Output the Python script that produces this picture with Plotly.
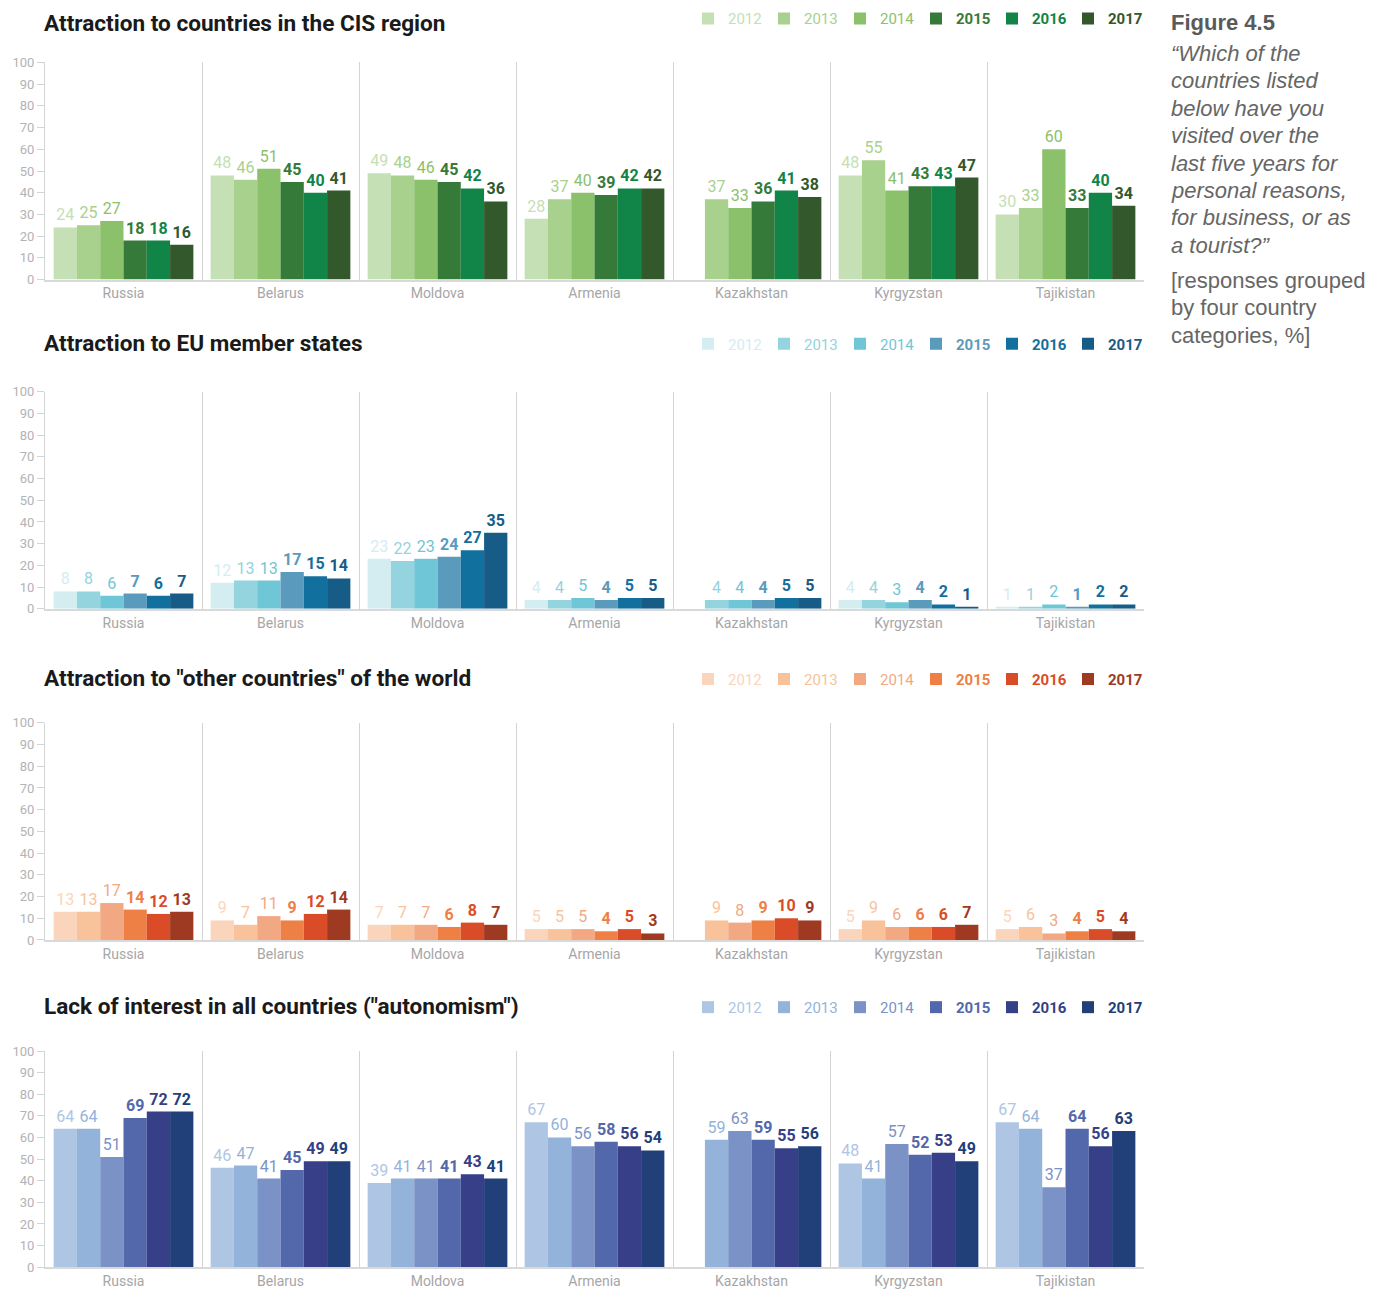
import plotly.graph_objects as go
from plotly.subplots import make_subplots

countries = ["Russia", "Belarus", "Moldova", "Armenia", "Kazakhstan", "Kyrgyzstan", "Tajikistan"]
years = ["2012", "2013", "2014", "2015", "2016", "2017"]

# rows = years (2012..2017), columns = countries
cis_values = [
    [24, 48, 49, 28, None, 48, 30],
    [25, 46, 48, 37, 37, 55, 33],
    [27, 51, 46, 40, 33, 41, 60],
    [18, 45, 45, 39, 36, 43, 33],
    [18, 40, 42, 42, 41, 43, 40],
    [16, 41, 36, 42, 38, 47, 34],
]
eu_values = [
    [8, 12, 23, 4, None, 4, 1],
    [8, 13, 22, 4, 4, 4, 1],
    [6, 13, 23, 5, 4, 3, 2],
    [7, 17, 24, 4, 4, 4, 1],
    [6, 15, 27, 5, 5, 2, 2],
    [7, 14, 35, 5, 5, 1, 2],
]
other_values = [
    [13, 9, 7, 5, None, 5, 5],
    [13, 7, 7, 5, 9, 9, 6],
    [17, 11, 7, 5, 8, 6, 3],
    [14, 9, 6, 4, 9, 6, 4],
    [12, 12, 8, 5, 10, 6, 5],
    [13, 14, 7, 3, 9, 7, 4],
]
auto_values = [
    [64, 46, 39, 67, None, 48, 67],
    [64, 47, 41, 60, 59, 41, 64],
    [51, 41, 41, 56, 63, 57, 37],
    [69, 45, 41, 58, 59, 52, 64],
    [72, 49, 43, 56, 55, 53, 56],
    [72, 49, 41, 54, 56, 49, 63],
]

cis_colors = ["#c5e0b4", "#a8d18d", "#8bc16a", "#367a3a", "#118447", "#33582b"]
eu_colors = ["#d3edf1", "#93d4de", "#6fc6d6", "#5a9bbd", "#12709e", "#175c87"]
other_colors = ["#fbd5bb", "#f8c39a", "#f3a884", "#ee8045", "#da4c27", "#9f3a22"]
auto_colors = ["#aec6e4", "#93b3da", "#7a92c5", "#5368aa", "#363f87", "#213f78"]

section_titles = [
    "Attraction to countries in the CIS region",
    "Attraction to EU member states",
    "Attraction to \"other countries\" of the world",
    "Lack of interest in all countries (\"autonomism\")",
]
caption_title = "Figure 4.5"
caption_quote = ["\u201cWhich of the", "countries listed", "below have you", "visited over the",
                 "last five years for", "personal reasons,", "for business, or as", "a tourist?\u201d"]
caption_note = ["[responses grouped", "by four country", "categories, %]"]
y_ticks = [0, 10, 20, 30, 40, 50, 60, 70, 80, 90, 100]

sections = [
    (cis_values, cis_colors),
    (eu_values, eu_colors),
    (other_values, other_colors),
    (auto_values, auto_colors),
]

# layout geometry (reference pixels); the page places the figure at (8, 8)
W, H = 1368, 1285
XOFF, YOFF = 8, 8
YSCALE = 1290 / 1301  # compress slightly so the bottom labels fit inside the figure
def px(x):
    return (x - XOFF) / W
def py(y):
    return 1 - (y * YSCALE - YOFF) / H

row_px = [(63, 282), (395, 614), (729, 948), (1060, 1278)]
title_px = [18, 346, 684, 1015]

LABEL_FONT = "Roboto, DejaVu Sans, sans-serif"
UI_FONT = "Roboto, DejaVu Sans, sans-serif"

fig = make_subplots(rows=4, cols=1)

for r, (vals, cols) in enumerate(sections):
    legend_name = "legend" if r == 0 else f"legend{r + 1}"
    for i, yr in enumerate(years):
        bold = i >= 3
        name = f"<span style='color:{cols[i]}'>{'<b>' + yr + '</b>' if bold else yr}</span>"
        fig.add_trace(
            go.Bar(
                x=countries,
                y=vals[i],
                name=name,
                marker=dict(color=cols[i], line=dict(width=0)),
                text=[("" if v is None else str(v)) for v in vals[i]],
                textposition="outside",
                textfont=dict(family=LABEL_FONT, size=16, color=cols[i],
                              weight=700 if bold else 400),
                constraintext="none",
                cliponaxis=False,
                legend=legend_name,
                showlegend=True,
            ),
            row=r + 1, col=1,
        )

fig.update_layout(
    width=W, height=H,
    margin=dict(l=0, r=0, t=0, b=0, autoexpand=False),
    plot_bgcolor="white", paper_bgcolor="white",
    barmode="group", bargap=0.11, bargroupgap=0,
    font=dict(family=UI_FONT),
)

for r in range(4):
    top, bot = row_px[r]
    xa = "xaxis" if r == 0 else f"xaxis{r + 1}"
    ya = "yaxis" if r == 0 else f"yaxis{r + 1}"
    fig.layout[xa].update(
        domain=[px(45), px(1144)],
        tickson="boundaries", ticks="",
        showgrid=True, gridcolor="#d4d4d4", gridwidth=1,
        showline=True, linecolor="#d9d9d9", linewidth=2,
        tickfont=dict(family=UI_FONT, size=14, color="#a6a6a6"),
        automargin=False, fixedrange=True,
    )
    fig.layout[ya].update(
        domain=[py(bot), py(top)],
        range=[0, 100], tickvals=y_ticks,
        ticks="outside", ticklen=7, tickcolor="#d4d4d4",
        showline=True, linecolor="#d4d4d4", linewidth=1,
        showgrid=False, zeroline=False,
        tickfont=dict(family=UI_FONT, size=13, color="#b3b3b3"),
        automargin=False, fixedrange=True,
    )
    legend_name = "legend" if r == 0 else f"legend{r + 1}"
    fig.layout[legend_name] = dict(
        orientation="h", x=px(688), xanchor="left",
        y=py(title_px[r] + 1), yanchor="middle",
        font=dict(family=UI_FONT, size=15),
        entrywidth=31, entrywidthmode="pixels",
        bgcolor="rgba(0,0,0,0)", borderwidth=0,
        traceorder="normal",
    )
    if r == 0:
        # top title: anchor its box to the top edge so it is not clipped
        ty, tanchor = 1.0, "top"
    else:
        ty, tanchor = py(title_px[r]), "middle"
    fig.add_annotation(
        text=section_titles[r], xref="paper", yref="paper",
        x=px(42), y=ty, xanchor="left", yanchor=tanchor,
        showarrow=False, font=dict(family=UI_FONT, size=22.6, color="#1a1a1a", weight=700),
    )

CAP_FONT = "Liberation Sans, Arial, sans-serif"
fig.add_annotation(
    text=caption_title, xref="paper", yref="paper", x=px(1169), y=1.0,
    xanchor="left", yanchor="top", showarrow=False,
    font=dict(family=CAP_FONT, size=22, color="#5a5a5a", weight=700),
)
for k, line in enumerate(caption_quote):
    fig.add_annotation(
        text=line, xref="paper", yref="paper", x=px(1169), y=py(54 + 27.6 * k),
        xanchor="left", yanchor="middle", showarrow=False,
        font=dict(family=CAP_FONT, size=22, color="#666666", style="italic"),
    )
for k, line in enumerate(caption_note):
    fig.add_annotation(
        text=line, xref="paper", yref="paper", x=px(1169), y=py(283 + 27.5 * k),
        xanchor="left", yanchor="middle", showarrow=False,
        font=dict(family=CAP_FONT, size=22, color="#666666"),
    )

fig.write_html("out.html")
